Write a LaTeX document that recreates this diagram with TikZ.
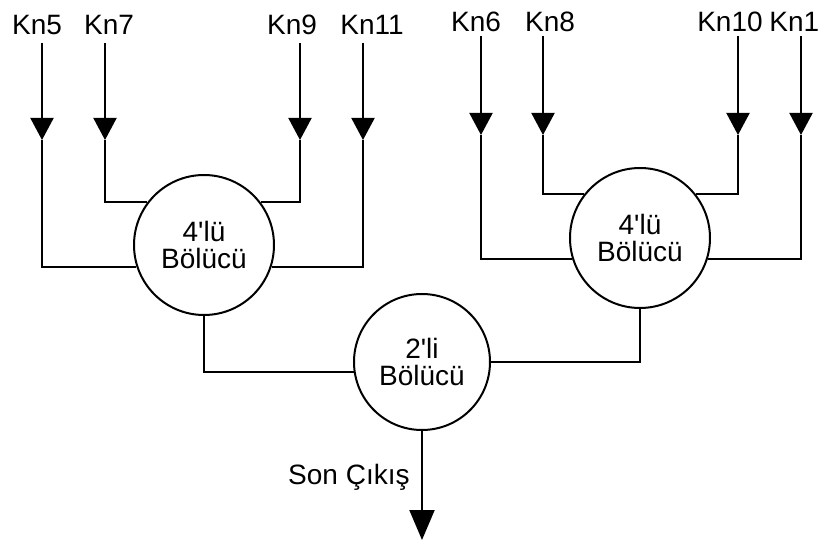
\documentclass[tikz,border=0pt]{standalone}
\usepackage{fontspec}
\setmainfont{Liberation Sans}
\usetikzlibrary{arrows.meta}

\tikzset{
  hat/.style={line width=1pt},
  giris/.style={line width=1pt, -{Triangle[width=11.5pt,length=11pt]}},
  bolucu/.style={draw, circle, line width=1pt, minimum size=70pt, inner sep=0pt,
    align=center, font=\fontsize{14}{13.5}\selectfont},
  etiket/.style={inner sep=0pt, font=\fontsize{14}{15}\selectfont}
}

\begin{document}
\begin{tikzpicture}[x=0.5pt, y=-0.5pt]
    \useasboundingbox (0,0) rectangle (821,540);
    % Bolucu daireleri
    \node[bolucu] (b4a) at (204,245) {4\textquotesingle l\"u\\B\"ol\"uc\"u};
    \node[bolucu] (b4b) at (640,238) {4\textquotesingle l\"u\\B\"ol\"uc\"u};
    \node[bolucu, minimum size=68pt] (b2) at (422,362) {2\textquotesingle li\\B\"ol\"uc\"u};
    % Kanal etiketleri
    \node[etiket] (kn5) at (37,25) {Kn5};
    \node[etiket] (kn7) at (109,25) {Kn7};
    \node[etiket] (kn9) at (292,25) {Kn9};
    \node[etiket] (kn11) at (372,25) {Kn11};
    \node[etiket] (kn6) at (476,22) {Kn6};
    \node[etiket] (kn8) at (550,22) {Kn8};
    \node[etiket] (kn10) at (730,22) {Kn10};
    \node[etiket, anchor=west] (kn1) at (769,22) {Kn1};
    % Girisler, sol grup
    \coordinate (kn5u) at (42,43);   \coordinate (kn5o) at (42,140);
    \coordinate (kn7u) at (105,43);  \coordinate (kn7o) at (105,140);
    \coordinate (kn9u) at (300,43);  \coordinate (kn9o) at (300,140);
    \coordinate (kn11u) at (363,43); \coordinate (kn11o) at (363,140);
    \draw[giris] (kn5u) -- (kn5o);
    \draw[giris] (kn7u) -- (kn7o);
    \draw[giris] (kn9u) -- (kn9o);
    \draw[giris] (kn11u) -- (kn11o);
    \draw[hat] (kn5o) |- (b4a.198);
    \draw[hat] (kn7o) |- (b4a.143);
    \draw[hat] (kn9o) |- (b4a.37);
    \draw[hat] (kn11o) |- (b4a.342);
    % Girisler, sag grup
    \coordinate (kn6u) at (481,36);  \coordinate (kn6o) at (481,135);
    \coordinate (kn8u) at (543,36);  \coordinate (kn8o) at (543,135);
    \coordinate (kn10u) at (738,36); \coordinate (kn10o) at (738,135);
    \coordinate (kn1u) at (801,36);  \coordinate (kn1o) at (801,135);
    \draw[giris] (kn6u) -- (kn6o);
    \draw[giris] (kn8u) -- (kn8o);
    \draw[giris] (kn10u) -- (kn10o);
    \draw[giris] (kn1u) -- (kn1o);
    \draw[hat] (kn6o) |- (b4b.197);
    \draw[hat] (kn8o) |- (b4b.142);
    \draw[hat] (kn10o) |- (b4b.38);
    \draw[hat] (kn1o) |- (b4b.343);
    % 2'li bolucuye baglanti
    \draw[hat] (b4a.south) |- (b2.188);
    \draw[hat] (b4b.south) |- (b2.east);
    % Son cikis
    \coordinate (cikis) at (422,540);
    \draw[hat, -{Triangle[width=12.5pt,length=15pt]}] (b2.south) -- (cikis);
    \node[etiket, anchor=east] (son) at (410,477) {Son Çıkış};
\end{tikzpicture}
\end{document}
